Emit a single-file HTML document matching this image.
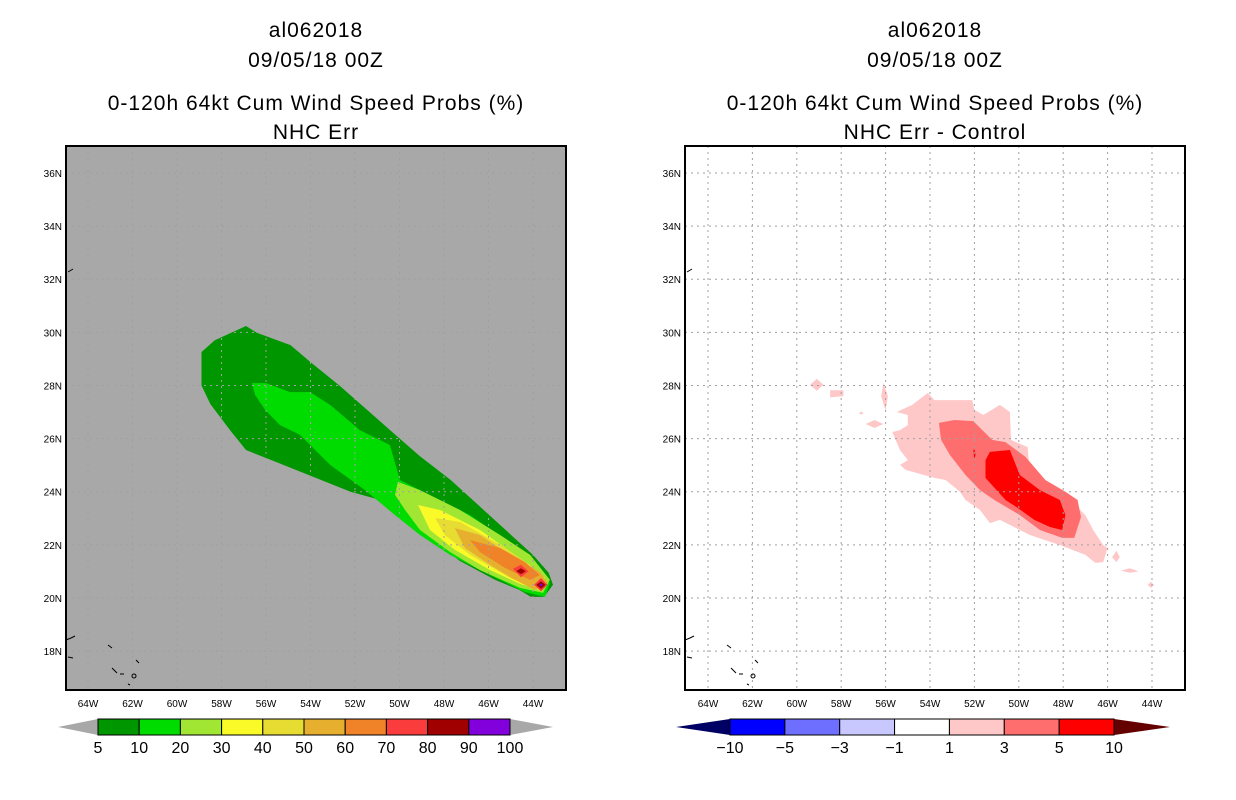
<!DOCTYPE html>
<html><head><meta charset="utf-8"><style>
body{margin:0;background:#fff;width:1236px;height:800px;overflow:hidden}
svg{display:block}
text{font-family:"Liberation Sans",sans-serif}
</style></head><body>
<svg id="s" width="1236" height="800"></svg>
<script>
const lonTicks=[64,62,60,58,56,54,52,50,48,46,44];
const latTicks=[36,34,32,30,28,26,24,22,20,18];
const leftLevels=[5,10,20,30,40,50,60,70,80,90,100];
const leftColors=["#009600","#00dc00","#a0e632","#fafa28","#e6dc32","#e6af2d","#f08228","#fa3c3c","#a00000","#8200dc"];
const rightLevels=[-10,-5,-3,-1,1,3,5,10];
const rightColors=["#0000ff","#6e6eff","#c8c8ff","#ffffff","#ffc8c8","#ff6e6e","#ff0000"];
const probContours=[
 {lvl:0,pts:[[56.9,30.24],[56.4,29.98],[54.9,29.52],[54.0,28.88],[52.7,28.0],[50.4,26.3],[49.1,25.35],[47.7,24.44],[46.4,23.45],[45.0,22.38],[44.0,21.62],[43.3,20.95],[43.1,20.5],[43.5,20.04],[44.1,20.04],[44.6,20.3],[45.7,20.68],[47.3,21.4],[49.1,22.56],[50.9,23.7],[52.2,24.0],[54.0,24.6],[55.8,25.2],[56.9,25.57],[57.6,26.3],[58.5,27.3],[58.9,28.0],[58.9,29.26],[58.3,29.7]]},
 {lvl:1,pts:[[56.63,28.09],[56.0,28.09],[54.92,27.75],[54.02,27.75],[53.12,27.27],[51.78,26.32],[50.43,25.76],[49.98,24.44],[49.08,24.06],[46.83,23.12],[44.58,21.81],[43.24,20.56],[43.46,20.04],[44.36,20.22],[45.93,20.86],[47.73,21.62],[49.08,22.37],[50.2,23.12],[51.55,24.06],[53.12,25.01],[54.47,26.14],[55.37,26.51],[56.04,27.08],[56.49,27.64]]},
 {lvl:2,pts:[[50.07,24.37],[49.08,24.06],[47.28,23.31],[45.48,22.37],[44.13,21.62],[43.24,20.68],[43.55,20.19],[44.58,20.38],[46.38,21.05],[47.73,21.73],[49.08,22.56],[49.75,23.31],[50.2,23.88]]},
 {lvl:3,pts:[[49.17,23.5],[48.18,23.31],[46.38,22.56],[44.81,21.62],[43.46,20.75],[43.69,20.3],[44.58,20.53],[45.93,21.05],[47.51,21.81],[48.63,22.56]]},
 {lvl:4,pts:[[48.4,23.01],[47.28,22.86],[45.48,22.0],[44.13,21.24],[43.46,20.68],[43.91,20.38],[45.03,20.75],[46.83,21.62],[47.96,22.37]]},
 {lvl:5,pts:[[47.51,22.63],[46.38,22.37],[45.03,21.62],[43.69,20.98],[43.33,20.56],[43.91,20.3],[44.81,20.68],[45.93,21.24],[47.06,21.88]]},
 {lvl:6,pts:[[46.83,22.18],[45.48,21.88],[44.36,21.35],[43.69,20.86],[44.13,20.68],[45.26,21.13],[46.38,21.73]]},
 {lvl:7,pts:[[44.9,21.1],[44.54,21.25],[44.2,21.0],[44.54,20.78]]},
 {lvl:7,pts:[[43.95,20.5],[43.64,20.75],[43.35,20.49],[43.64,20.25]]},
 {lvl:8,pts:[[44.75,21.01],[44.54,21.12],[44.33,21.01],[44.54,20.9]]},
 {lvl:8,pts:[[43.85,20.49],[43.64,20.63],[43.44,20.49],[43.64,20.35]]},
 {lvl:9,pts:[[43.72,20.49],[43.64,20.55],[43.56,20.49],[43.64,20.43]]}
];
const diffContours=[
 {lvl:4,pts:[[54.1,27.72],[53.8,27.45],[52.1,27.45],[52.0,27.08],[51.6,26.89],[50.85,27.27],[50.4,27.0],[50.35,25.95],[49.6,25.68],[49.5,24.63],[48.6,24.06],[47.7,23.69],[47.0,23.12],[46.65,22.56],[46.2,21.99],[46.0,21.88],[46.2,21.35],[46.55,21.32],[47.0,21.62],[48.15,21.99],[49.5,22.37],[50.85,22.94],[51.3,22.82],[51.75,23.31],[52.4,23.69],[52.65,24.0],[53.3,24.44],[53.8,24.52],[55.1,24.82],[55.35,25.01],[55.0,25.19],[55.35,25.57],[55.7,26.25],[55.35,26.32],[55.0,26.51],[55.0,26.89],[55.5,27.0],[54.8,27.27]]},
 {lvl:4,pts:[[59.4,28.02],[59.1,28.25],[58.8,28.02],[59.1,27.8]]},
 {lvl:4,pts:[[58.5,27.82],[57.9,27.82],[57.9,27.6],[58.5,27.55]]},
 {lvl:4,pts:[[56.1,28.1],[55.9,27.6],[56.0,27.05],[56.2,27.6]]},
 {lvl:4,pts:[[56.9,26.55],[56.5,26.7],[56.1,26.55],[56.5,26.4]]},
 {lvl:4,pts:[[57.2,26.96],[57.1,27.02],[57.0,26.96],[57.1,26.9]]},
 {lvl:4,pts:[[45.8,21.54],[45.6,21.78],[45.45,21.54],[45.6,21.35]]},
 {lvl:4,pts:[[45.4,21.03],[45.0,21.12],[44.6,21.0],[45.0,20.95]]},
 {lvl:4,pts:[[44.2,20.49],[44.05,20.6],[43.9,20.49],[44.05,20.38]]},
 {lvl:5,pts:[[53.6,26.59],[52.9,26.7],[52.05,26.66],[51.2,25.95],[50.6,25.87],[49.7,25.31],[48.8,24.44],[47.9,24.0],[47.35,23.69],[47.2,23.05],[47.5,22.26],[48.05,22.26],[49.05,22.56],[49.95,23.12],[51.1,23.69],[51.75,24.06],[52.4,24.63],[53.1,25.38],[53.5,25.95]]},
 {lvl:6,pts:[[51.3,25.5],[50.4,25.57],[50.1,24.93],[49.95,24.63],[49.05,24.06],[48.15,23.69],[47.9,23.12],[48.05,22.56],[48.6,22.67],[49.3,22.94],[50.05,23.39],[50.6,23.69],[51.0,24.06],[51.5,24.52],[51.5,25.19]]},
 {lvl:6,pts:[[52.05,25.57],[52.0,25.2],[51.95,25.4],[52.0,25.6]]}
];
const NS="http://www.w3.org/2000/svg";
const svg=document.getElementById('s');
function mk(tag,attrs,parent){const e=document.createElementNS(NS,tag);for(const k in attrs)e.setAttribute(k,attrs[k]);(parent||svg).appendChild(e);return e;}
function panel(px,lon64x,degW,title2,bg,contours,colors,name){
  const g=mk('g',{});
  
  
  const x0=px,x1=px+500,y0=146,y1=690;
  const X=lon=>lon64x+(64-lon)*degW;
  const Y=lat=>173+(36-lat)*26.56;
  const cx=(x0+x1)/2;
  [['al062018',30],['09/05/18 00Z',60],['0-120h 64kt Cum Wind Speed Probs (%)',103],[title2,132]].forEach((t,i)=>{
    const tx=mk('text',{x:cx,y:t[1]+7,'text-anchor':'middle','font-size':'21','fill':'#000','letter-spacing':'1'},g);
    tx.textContent=t[0];
    
    
  });
  const bgR=mk('rect',{x:x0,y:y0,width:500,height:544,fill:bg},g);
  
  
  contours.forEach(c=>{
    const p=mk('polygon',{points:c.pts.map(q=>X(q[0]).toFixed(1)+','+Y(q[1]).toFixed(1)).join(' '),fill:colors[c.lvl]},g);
    
    
  });
  lonTicks.forEach(l=>{
    const ln=mk('line',{x1:X(l),x2:X(l),y1:y0,y2:y1,stroke:'#a0a0a0','stroke-dasharray':'2,4','stroke-width':1},g);
    
    
    const t=mk('text',{x:X(l),y:y1+17,'text-anchor':'middle','font-size':'10'},g);
    t.textContent=l+'W';
    
    
  });
  latTicks.forEach(l=>{
    const ln=mk('line',{x1:x0,x2:x1,y1:Y(l),y2:Y(l),stroke:'#a0a0a0','stroke-dasharray':'2,4','stroke-width':1},g);
    
    
    const t=mk('text',{x:x0-4,y:Y(l)+4,'text-anchor':'end','font-size':'10'},g);
    t.textContent=l+'N';
    
    
  });
  const coast=mk('path',{d:`M${x0+2} 272 l5 -3 M${x0} 640 l5 -2 l4 -2 M${x0+2} 657 l5 1 M${x0+42} 645 l4 3 M${x0+46} 668 l5 5 M${x0+54} 674 l4 0 M${x0+70} 660 l3 3 M${x0+66} 676 a2 2 0 1 0 4 0 a2 2 0 1 0 -4 0 M${x0+62} 684 l2 1`,stroke:'#000',fill:'none','stroke-width':1},g);
  
  
  const fr=mk('rect',{x:x0,y:y0,width:500,height:544,fill:'none',stroke:'#000','stroke-width':2},g);
  
  
  return g;
}
panel(66,88,22.25,'NHC Err','#a8a8a8',probContours,leftColors,'left-map-panel');
panel(685,708,22.2,'NHC Err - Control','#ffffff',diffContours,rightColors,'right-map-panel');

function colorbar(xs,xe,triL,triR,lcol,rcol,colors,levels,name){
  const g=mk('g',{});
  
  
  const y0=719,y1=735,ym=727;
  const a=mk('polygon',{points:`${triL},${ym} ${xs},${y0} ${xs},${y1}`,fill:lcol},g);
  
  
  const b=mk('polygon',{points:`${triR},${ym} ${xe},${y0} ${xe},${y1}`,fill:rcol},g);
  
  
  const w=(xe-xs)/colors.length;
  colors.forEach((c,i)=>{
    const r=mk('rect',{x:xs+i*w,y:y0,width:w,height:y1-y0,fill:c,stroke:'#000','stroke-width':1},g);
    
    
  });
  levels.forEach((l,i)=>{
    const t=mk('text',{x:xs+i*w,y:753,'text-anchor':'middle','font-size':'16'},g);
    t.textContent=l<0?'\u2212'+Math.abs(l):String(l);
    
    
  });
}
colorbar(98,510,58,553,'#a8a8a8','#a8a8a8',leftColors,leftLevels,'left-colorbar');
colorbar(730,1114,676,1170,'#000064','#640000',rightColors,rightLevels,'right-colorbar');
</script>
</body></html>
